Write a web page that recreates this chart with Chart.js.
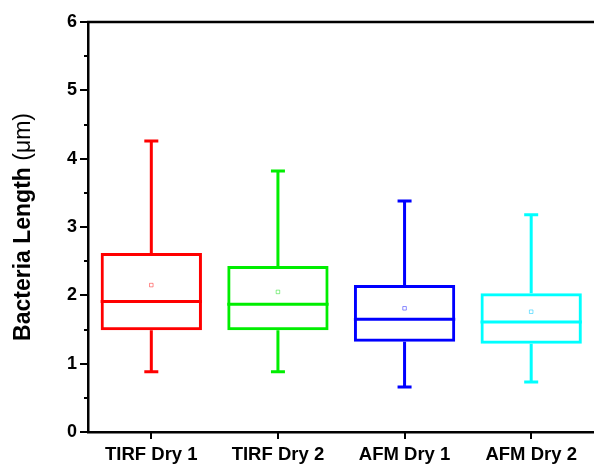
<!DOCTYPE html>
<html>
<head>
<meta charset="utf-8">
<script src="https://cdn.jsdelivr.net/npm/chart.js@4/dist/chart.umd.min.js"></script>
<style>
  html, body { margin: 0; padding: 0; background: #fff; overflow: hidden; }
  #wrap { width: 598px; height: 465px; }
</style>
</head>
<body>
<div id="wrap"><canvas id="c" width="598" height="465"></canvas></div>
<script>
// Box-plot summary of bacteria length per sample group (µm)
const groups   = ['TIRF Dry 1', 'TIRF Dry 2', 'AFM Dry 1', 'AFM Dry 2'];
const whiskLo  = [0.88, 0.88, 0.66, 0.73];
const quart1   = [1.49, 1.49, 1.32, 1.29];
const medians  = [1.91, 1.87, 1.65, 1.61];
const quart3   = [2.62, 2.43, 2.15, 2.03];
const whiskHi  = [4.26, 3.82, 3.38, 3.18];
const means    = [2.15, 2.05, 1.81, 1.76];
const yTicks   = [0, 1, 2, 3, 4, 5, 6];

const colors     = ['#ff0000', '#00ee00', '#0000ff', '#00ffff'];
const meanColors = ['rgba(255,0,0,0.45)', 'rgba(0,220,0,0.45)', 'rgba(0,0,255,0.45)', 'rgba(0,200,255,0.5)'];

const FONT = '"Liberation Sans", Arial, sans-serif';

// Whiskers, medians, axis ticks, frame and rotated axis title
const boxExtras = {
  id: 'boxExtras',
  afterDatasetsDraw(chart) {
    const ctx = chart.ctx;
    const x = chart.scales.x, y = chart.scales.y;
    const meta = chart.getDatasetMeta(0);
    ctx.save();
    ctx.lineWidth = 3;
    ctx.lineCap = 'butt';
    groups.forEach((g, i) => {
      const bar = meta.data[i];
      const cx = x.getPixelForValue(i);
      const half = bar.width / 2;
      ctx.strokeStyle = colors[i];
      // median
      const ym = y.getPixelForValue(medians[i]);
      ctx.beginPath();
      ctx.moveTo(cx - half, ym); ctx.lineTo(cx + half, ym);
      ctx.stroke();
      // whiskers
      const yq1 = y.getPixelForValue(quart1[i]);
      const yq3 = y.getPixelForValue(quart3[i]);
      const ylo = y.getPixelForValue(whiskLo[i]);
      const yhi = y.getPixelForValue(whiskHi[i]);
      const cap = 7;
      ctx.beginPath();
      ctx.moveTo(cx, yq3); ctx.lineTo(cx, yhi);
      ctx.moveTo(cx - cap, yhi); ctx.lineTo(cx + cap, yhi);
      ctx.moveTo(cx, yq1); ctx.lineTo(cx, ylo);
      ctx.moveTo(cx - cap, ylo); ctx.lineTo(cx + cap, ylo);
      ctx.stroke();
    });
    ctx.restore();
  },
  afterDraw(chart) {
    const ctx = chart.ctx;
    const a = chart.chartArea;
    const x = chart.scales.x, y = chart.scales.y;
    ctx.save();
    ctx.strokeStyle = '#000';
    ctx.lineWidth = 2.5;
    // top frame line
    ctx.beginPath();
    ctx.moveTo(a.left - 1, a.top); ctx.lineTo(a.right, a.top);
    ctx.stroke();
    // y ticks, major and minor
    ctx.lineWidth = 2;
    for (let v = 0; v <= 6.001; v += 0.5) {
      const py = Math.round(y.getPixelForValue(v));
      const len = Number.isInteger(v) ? 8 : 4;
      ctx.beginPath();
      ctx.moveTo(a.left - len, py); ctx.lineTo(a.left, py);
      ctx.stroke();
    }
    // x ticks
    groups.forEach((g, i) => {
      const px = Math.round(x.getPixelForValue(i));
      ctx.beginPath();
      ctx.moveTo(px, a.bottom); ctx.lineTo(px, a.bottom + 7);
      ctx.stroke();
    });
    // rotated axis title
    ctx.translate(24, (a.top + a.bottom) / 2);
    ctx.rotate(-Math.PI / 2);
    ctx.fillStyle = '#000';
    ctx.textBaseline = 'middle';
    const boldPart = 'Bacteria Length ';
    const regPart = '(\u03bcm)';
    ctx.font = 'bold 23px ' + FONT;
    const w1 = ctx.measureText(boldPart).width;
    ctx.font = '23px ' + FONT;
    const w2 = ctx.measureText(regPart).width;
    const start = -(w1 + w2) / 2;
    ctx.font = 'bold 23px ' + FONT;
    ctx.textAlign = 'left';
    ctx.fillText(boldPart, start, 0);
    ctx.font = '23px ' + FONT;
    ctx.fillText(regPart, start + w1, 0);
    ctx.restore();
  }
};

new Chart(document.getElementById('c'), {
  type: 'bar',
  data: {
    labels: groups,
    datasets: [
      {
        label: 'IQR',
        data: quart1.map((q, i) => [q, quart3[i]]),
        backgroundColor: 'rgba(0,0,0,0)',
        borderColor: colors,
        borderWidth: 3,
        borderSkipped: false,
        barPercentage: 0.8,
        categoryPercentage: 1,
        grouped: false,
        order: 2
      },
      {
        type: 'line',
        label: 'Mean',
        data: means,
        showLine: false,
        pointStyle: 'rect',
        pointRadius: 2.5,
        pointHoverRadius: 2.5,
        pointBorderWidth: 1,
        pointBorderColor: meanColors,
        pointBackgroundColor: 'rgba(0,0,0,0)',
        order: 1
      }
    ]
  },
  options: {
    responsive: false,
    animation: false,
    events: [],
    layout: { padding: { top: 22, left: 0, right: 0, bottom: 0 } },
    plugins: { legend: { display: false }, tooltip: { enabled: false } },
    scales: {
      x: {
        offset: true,
        grid: { display: false, drawTicks: false },
        border: { display: true, color: '#000', width: 2.5 },
        ticks: { color: '#000', font: { family: FONT, size: 18.5, weight: 'bold' }, padding: 12, maxRotation: 0 },
        afterFit(s) { s.height = 33; }
      },
      y: {
        min: 0, max: 6,
        afterBuildTicks(s) { s.ticks = yTicks.map(v => ({ value: v })); },
        grid: { display: false, drawTicks: false },
        border: { display: true, color: '#000', width: 2.5 },
        ticks: { color: '#000', font: { family: FONT, size: 18, weight: 'bold' }, padding: 11 },
        afterFit(s) { s.width = 88; }
      }
    }
  },
  plugins: [boxExtras]
});
</script>
</body>
</html>
